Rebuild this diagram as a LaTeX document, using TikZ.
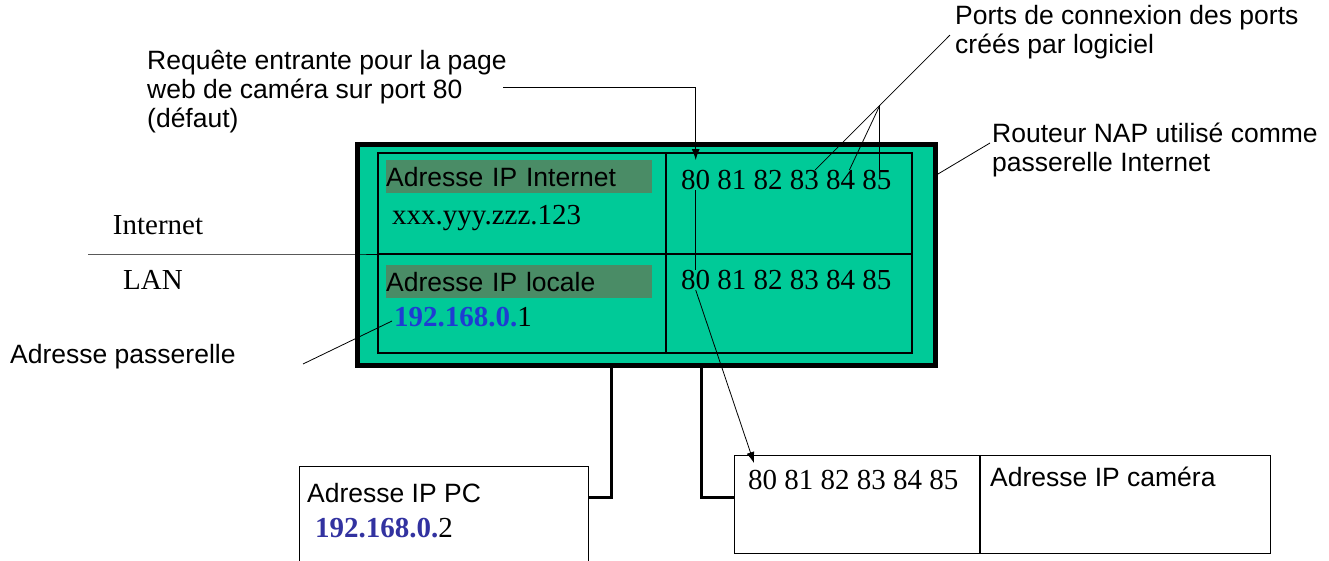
\documentclass[tikz,border=0pt]{standalone}
\usepackage{fontspec}
\setmainfont{Liberation Serif}
\setsansfont{Liberation Sans}
\usepackage{xcolor}
\usetikzlibrary{positioning,arrows.meta,calc}
\definecolor{routergreen}{RGB}{0,202,152}
\definecolor{taggreen}{RGB}{74,140,102}
\definecolor{ipblue}{RGB}{30,60,210}
\definecolor{pcblue}{RGB}{50,50,160}

\newcommand{\arialtext}{\sffamily\fontsize{26.5}{29}\selectfont}
\newcommand{\timestext}{\rmfamily\fontsize{29}{32}\selectfont}

\tikzset{
  note/.style={font=\arialtext, align=left, inner sep=0pt, anchor=west},
  portnum/.style={font=\timestext, inner sep=0pt, anchor=west},
  iptag/.style={fill=taggreen, font=\arialtext, text width=266pt, minimum height=33pt,
    inner xsep=0pt, inner ysep=0pt, align=left, anchor=north west},
  cell/.style={draw, line width=1.2pt, inner sep=0pt, anchor=north west},
  link/.style={line width=3pt},
  thin/.style={line width=0.8pt},
  pointer/.style={line width=0.8pt, -{Latex[length=11pt,width=8pt]}}
}

\begin{document}
\begin{tikzpicture}[x=1pt,y=-1pt]
\useasboundingbox (0,0) rectangle (1329,561);
\clip (0,0) rectangle (1329,561);

% routeur
\node[draw, line width=5pt, fill=routergreen, minimum width=578pt, minimum height=221pt,
  inner sep=0pt, anchor=north west] (router) at (355,142) {};
\draw[line width=1.4pt] (378,153) rectangle (912,353);
\draw[line width=1.6pt] (666,153) -- (666,353);
\draw[line width=2.4pt] (378,254) -- (912,254);

\node[iptag] (inettag) at (386,160) {Adresse IP Internet};
\node[portnum] (inetip) at (392,218) {xxx.yyy.zzz.123};
\node[iptag] (loctag) at (386,265) {Adresse IP locale};
\node[portnum] (locip) at (394,317) {\textbf{\textcolor{ipblue}{192.168.0.}}1};

\foreach \p [count=\i from 0] in {80,81,82,83,84,85}{
  \node[portnum] (top\p) at ({681+36.25*\i},180) {\p};
  \node[portnum] (low\p) at ({681+36.25*\i},280) {\p};
}

% Internet / LAN
\node[font=\timestext, inner sep=0pt] (inet) at (158,225) {Internet};
\node[font=\timestext, inner sep=0pt] (lan) at (153,280) {LAN};
\coordinate (lanend) at (88,254);
\draw[thin] (lanend) -- (lanend -| router.west) -- (378,254);

% PC
\node[cell, minimum width=289pt, minimum height=120pt] (pcbox) at (299,466) {};
\node[note] (pclbl) at (307,493) {Adresse IP PC};
\node[portnum] (pcip) at (315,528) {\textbf{\textcolor{pcblue}{192.168.0.}}2};
\coordinate (pcjoin) at (611,497);
\draw[link] (router.south -| pcjoin) -- (pcjoin) -- (pcbox.east |- pcjoin);

% camera
\node[cell, minimum width=245pt, minimum height=98pt] (camports) at (734,455) {};
\node[cell, minimum width=290pt, minimum height=98pt] (camip) at (camports.north east) {};
\foreach \p [count=\i from 0] in {80,81,82,83,84,85}
  \node[portnum] (cam\p) at ({748+36.25*\i},480) {\p};
\node[note] (camlbl) at (990,477) {Adresse IP caméra};
\coordinate (camjoin) at (701,497);
\draw[link] (router.south -| camjoin) -- (camjoin) -- (camports.west |- camjoin);

% legendes
\node[note, anchor=north west] (reqlbl) at (147,50) {Requête entrante pour la page\\web de caméra sur port 80\\(défaut)};
\coordinate (reqstart) at (503,87);
\draw[pointer] (reqstart) -- (reqstart -| top80.north) -- ([yshift=10pt]top80.north);
\draw[thin] (top80.south) -- (low80.north);
\draw[pointer] (low80.south) -- ([shift={(6pt,7pt)}]cam80.north west);

\node[note, anchor=north west] (portslbl) at (955,5) {Ports de connexion des ports\\créés par logiciel};
\coordinate (fanlow) at ([xshift=-4pt]top83.north east);
\coordinate (fanhigh) at ([shift={(-5pt,-3pt)}]portslbl.west);
\coordinate (fan) at ($(fanlow)!0.48!(fanhigh)$);
\draw[thin] (fanlow) -- (fanhigh);
\draw[thin] (fan) -- ([xshift=-6pt]top84.north east);
\draw[thin] (fan) -- (fan |- top85.north);

\node[note] (routerlbl) at (992,150) {Routeur NAP utilisé comme\\passerelle Internet};
\draw[thin] ([yshift=-32pt]router.north east) -- ([shift={(-2pt,7pt)}]routerlbl.west);

\node[note] (gwlbl) at (10,357) {Adresse passerelle};
\coordinate (gwstart) at (303,364);
\draw[thin] (gwstart) -- ([shift={(-2pt,-4pt)}]locip.west);
\end{tikzpicture}
\end{document}
